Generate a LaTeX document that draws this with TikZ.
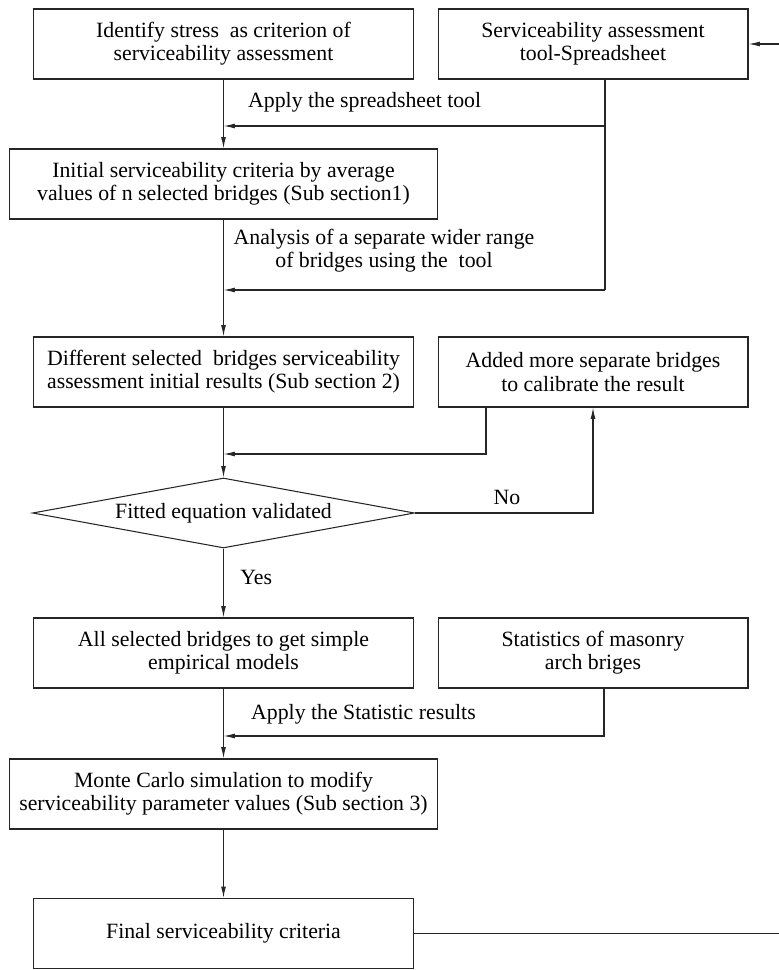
\documentclass[tikz,border=0pt]{standalone}
\usepackage{fontspec}
\setmainfont{Liberation Serif}
\usetikzlibrary{calc, positioning, arrows.meta, shapes.geometric}

\begin{document}
\begin{tikzpicture}[
        x=0.02cm, y=-0.02cm,
        font=\fontsize{12.4}{13.2}\selectfont,
        box/.style={draw=black!85, line width=0.6pt, fill=white, align=center, inner sep=2pt, minimum width=7.62cm, minimum height=1.4cm},
        widebox/.style={box, minimum width=8.58cm},
        sidebox/.style={box, minimum width=6.2cm},
        decision/.style={draw=black!85, line width=0.6pt, shape=diamond, aspect=5.5, inner sep=0pt, minimum width=7.64cm, minimum height=1.4cm},
        flow/.style={-{Latex[length=6.5pt, width=2.8pt]}, draw=black!85, line width=0.6pt},
        link/.style={draw=black!85, line width=0.6pt}
    ]
    \useasboundingbox (0,0) rectangle (778,970);

    % Top row
    \node[box] (stress) at (223.5, 44) {Identify stress~ as criterion of\\serviceability assessment};
    \node[sidebox] (tool) at (593, 44) {Serviceability assessment\\tool-Spreadsheet};

    % Initial criteria
    \node[widebox] (initial) at (223.5, 184) {Initial serviceability criteria by average\\values of n selected bridges (Sub section1)};

    % Selected bridges
    \node[box] (different) at (223.5, 372) {Different selected~ bridges serviceability\\assessment initial results (Sub section 2)};
    \node[sidebox] (added) at (593, 372) {Added more separate bridges\\to calibrate the result};

    % Check
    \node[decision] (fitted) at (223.5, 513) {Fitted equation validated};

    % Empirical models
    \node[box] (allsel) at (223.5, 653) {All selected bridges to get simple\\empirical models};
    \node[sidebox] (stats) at (593, 653) {Statistics of masonry\\arch briges};

    % Simulation and result
    \node[widebox] (monte) at (223.5, 794) {Monte Carlo simulation to modify\\serviceability parameter values (Sub section 3)};
    \node[box] (final) at (223.5, 933.5) {Final serviceability criteria};

    % Main flow
    \draw[flow] (stress) -- (initial);
    \draw[flow] (initial) -- (different);
    \draw[flow] (different) -- (fitted);
    \draw[flow] (fitted) -- (allsel) node[pos=0.42, right=6pt] {Yes};
    \draw[flow] (allsel) -- (monte);
    \draw[flow] (monte) -- (final);

    % Spreadsheet tool
    \draw[link] (tool.south -| 605,0) -- (605,126) coordinate (toolA) -- (605,290) coordinate (toolB);
    \draw[flow] (toolA) -- (stress.south |- toolA);
    \draw[flow] (toolB) -- (initial.south |- toolB);
    \node[anchor=west] at (242, 102) {Apply the spreadsheet tool};
    \node[align=center] at (384, 251) {Analysis of a separate wider range\\of bridges using the~ tool};

    % Calibration loop
    \draw[flow] (added.south -| 486,0) |- (different.south |- 0,454);
    \draw[flow] (fitted.east) -| (added.south);
    \node at (507, 497) {No};

    % Statistics
    \draw[flow] (stats.south -| 604,0) |- (allsel.south |- 0,736);
    \node[anchor=west] at (245, 714) {Apply the Statistic results};

    % Feedback to tool
    \draw[flow] (final.east) -- (final.east -| 800,0) |- (tool.east);

\end{tikzpicture}
\end{document}
